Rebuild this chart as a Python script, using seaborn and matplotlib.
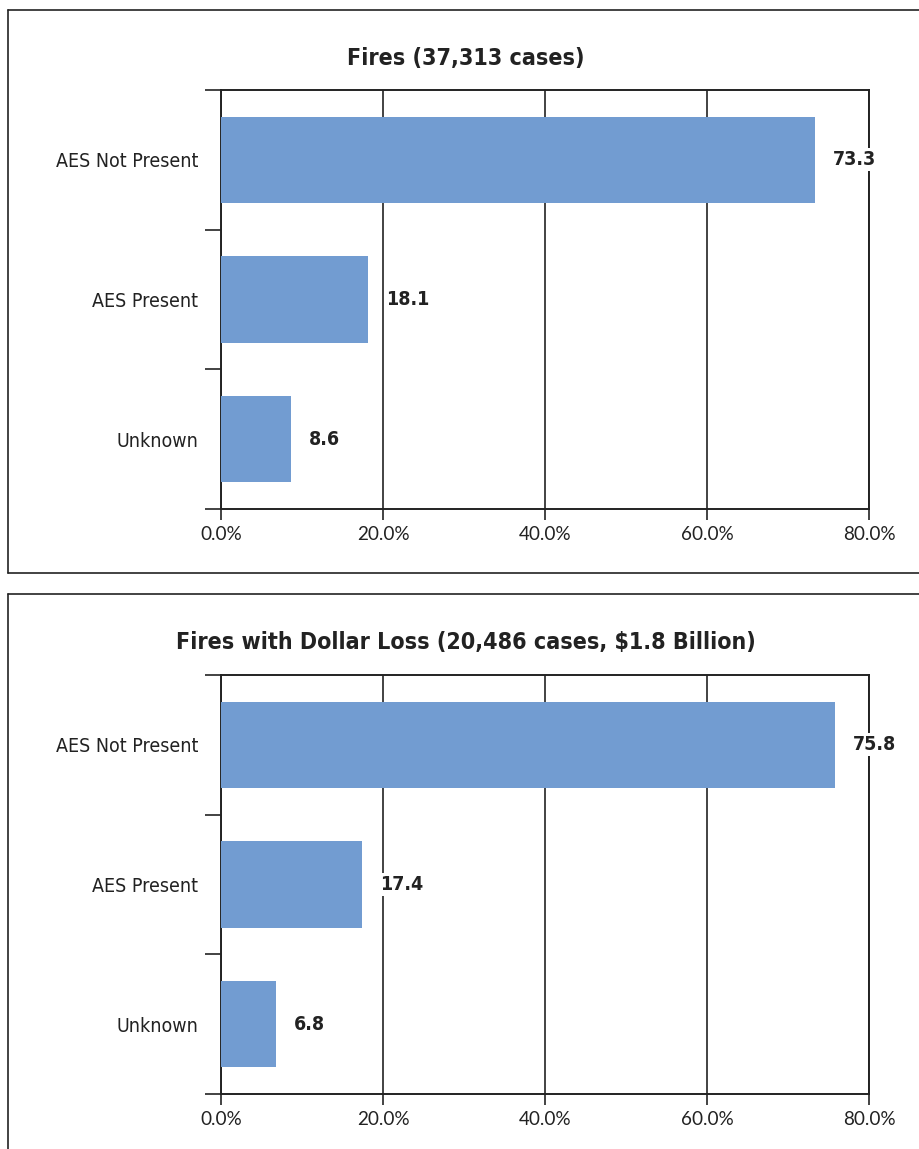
import os
import matplotlib
matplotlib.use("Agg")
import matplotlib.pyplot as plt
from matplotlib.lines import Line2D
from matplotlib import font_manager as fm
from matplotlib.font_manager import FontProperties
import seaborn as sns

# Data
categories = ["AES Not Present", "AES Present", "Unknown"]
fires_pct = [73.3, 18.1, 8.6]
loss_pct = [75.8, 17.4, 6.8]
titles = ["Fires (37,313 cases)", "Fires with Dollar Loss (20,486 cases, $1.8 Billion)"]
x_ticks = [0, 20, 40, 60, 80]
x_tick_labels = ["0.0%", "20.0%", "40.0%", "60.0%", "80.0%"]

BAR_COLOR = "#729CD1"
INK = "#222222"

sns.set_style("white")


def narrow_font(files, weight):
    """Prefer a narrow/condensed face; fall back to Roboto."""
    found = {os.path.basename(f.fname).lower(): f.fname
             for f in fm.fontManager.ttflist}
    for name in files:
        if name.lower() in found:
            return lambda size: FontProperties(fname=found[name.lower()], size=size)
    return lambda size: FontProperties(family=["Roboto", "DejaVu Sans"],
                                       weight=weight, size=size)


regular = narrow_font(["LiberationSansNarrow-Regular.ttf",
                       "DejaVuSansCondensed.ttf"], "normal")
bold = narrow_font(["LiberationSansNarrow-Bold.ttf",
                    "DejaVuSansCondensed-Bold.ttf"], "bold")
tick_font = FontProperties(family=["Lato", "DejaVu Sans"], size=13.6)

W, H = 920, 1149
fig = plt.figure(figsize=(W / 100, H / 100), dpi=100)


def fx(px):
    return px / W


def fy(px):
    return 1 - px / H


# Panel frames
frame_kw = dict(color=INK, lw=1.2, transform=fig.transFigure)
fig.add_artist(Line2D([fx(8), 1.0], [fy(10), fy(10)], **frame_kw))
fig.add_artist(Line2D([fx(8), 1.0], [fy(573), fy(573)], **frame_kw))
fig.add_artist(Line2D([fx(8), fx(8)], [fy(10), fy(573)], **frame_kw))
fig.add_artist(Line2D([fx(8), 1.0], [fy(594), fy(594)], **frame_kw))
fig.add_artist(Line2D([fx(8), fx(8)], [fy(594), 0.0], **frame_kw))

panels = [
    (fires_pct, titles[0], 90, 58),
    (loss_pct, titles[1], 675, 643),
]

for values, title, top_px, title_px in panels:
    ax = fig.add_axes([fx(221), fy(top_px + 419), fx(869) - fx(221), 419 / H])
    sns.barplot(x=values, y=categories, orient="h", color=BAR_COLOR,
                saturation=1, width=0.62, linewidth=0, ax=ax, zorder=3)
    ax.set_xlim(0, 80)
    ax.set_ylim(2.5, -0.5)
    ax.set_xlabel("")
    ax.set_ylabel("")

    ax.set_xticks(x_ticks)
    ax.set_xticklabels(x_tick_labels, fontproperties=tick_font, color=INK)
    ax.tick_params(axis="x", which="major", bottom=True, direction="out",
                   length=8, width=1.2, color=INK, pad=4)

    ax.set_yticks(range(len(categories)))
    ax.set_yticklabels(categories, fontproperties=regular(14), color=INK)
    ax.set_yticks([-0.5, 0.5, 1.5, 2.5], minor=True)
    ax.tick_params(axis="y", which="major", left=False, length=0, pad=16.5)
    ax.tick_params(axis="y", which="minor", left=True, direction="out",
                   length=11.5, width=1.2, color=INK)

    ax.xaxis.grid(True, color=INK, lw=1.2, zorder=1)
    ax.set_axisbelow(True)
    for sp in ax.spines.values():
        sp.set_visible(True)
        sp.set_color(INK)
        sp.set_linewidth(1.4)

    for i, v in enumerate(values):
        ax.annotate(f"{v}", xy=(v, i), xytext=(13, 0),
                    textcoords="offset points", va="center", ha="left",
                    fontproperties=bold(14), color=INK,
                    bbox=dict(boxstyle="square,pad=0.1", fc="white",
                              ec="none"),
                    zorder=5)

    fig.text(fx(466), fy(title_px), title, ha="center", va="center",
             fontproperties=bold(16.7), color=INK)

fig.savefig("out.png", dpi=100)
